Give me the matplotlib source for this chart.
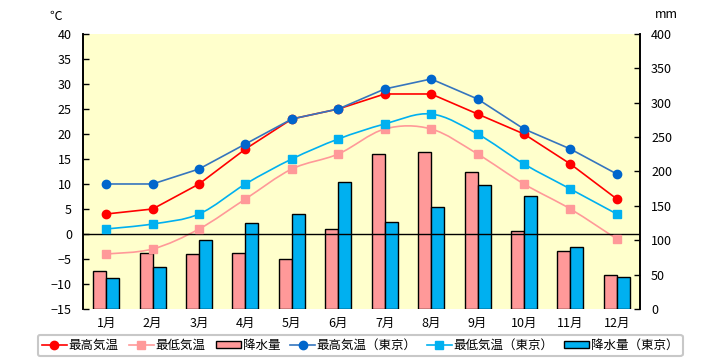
import matplotlib
matplotlib.use("Agg")
import matplotlib.pyplot as plt
from matplotlib.lines import Line2D
from matplotlib.patches import Patch, PathPatch
from matplotlib.path import Path
import numpy as np

plt.rcParams['font.family'] = ['Noto Sans CJK JP', 'DejaVu Sans']

months = ["1月", "2月", "3月", "4月", "5月", "6月",
          "7月", "8月", "9月", "10月", "11月", "12月"]

# temperature (deg C)
tmax = [4, 5, 10, 17, 23, 25, 28, 28, 24, 20, 14, 7]
tmin = [-4, -3, 1, 7, 13, 16, 21, 21, 16, 10, 5, -1]
tmax_tokyo = [10, 10, 13, 18, 23, 25, 29, 31, 27, 21, 17, 12]
tmin_tokyo = [1, 2, 4, 10, 15, 19, 22, 24, 20, 14, 9, 4]

# precipitation (mm)
rain = [55, 81, 80, 81, 72, 116, 226, 228, 199, 113, 84, 50]
rain_tokyo = [45, 61, 100, 125, 138, 184, 126, 148, 180, 164, 90, 46]

temp_ticks = list(range(-15, 41, 5))
mm_ticks = list(range(0, 401, 50))

RED = "#FF0000"
PINK = "#FF9999"
DBLUE = "#0066CC"
LBLUE = "#00B0F0"


def smooth_path(xs, ys):
    """Catmull-Rom style bezier path through the points (like Excel smoothing)."""
    pts = np.column_stack([xs, ys]).astype(float)
    verts = [pts[0]]
    codes = [Path.MOVETO]
    n = len(pts)
    for i in range(n - 1):
        p0 = pts[i - 1] if i > 0 else pts[i]
        p1 = pts[i]
        p2 = pts[i + 1]
        p3 = pts[i + 2] if i + 2 < n else pts[i + 1]
        c1 = p1 + (p2 - p0) / 6.0
        c2 = p2 - (p3 - p1) / 6.0
        verts += [c1, c2, p2]
        codes += [Path.CURVE4] * 3
    return Path(verts, codes)


fig = plt.figure(figsize=(7.2, 3.6), dpi=100)
ax2 = fig.add_axes([0.1153, 0.1417, 0.7736, 0.7639])
ax = ax2.twinx()
# temperature axis on the left, draw it above the bars
ax.yaxis.tick_left()
ax2.yaxis.tick_right()
ax.set_zorder(ax2.get_zorder() + 1)
ax.patch.set_visible(False)
ax2.set_facecolor("#FFFFCC")

x = np.arange(len(months))
w = 0.28

ax2.bar(x - w / 2, rain, w, color=PINK, edgecolor="black", linewidth=1)
ax2.bar(x + w / 2, rain_tokyo, w, color=LBLUE, edgecolor="black", linewidth=1)
ax2.set_ylim(0, 400)
ax2.set_yticks(mm_ticks)

ax.axhline(0, color="black", linewidth=1)

ax.add_patch(PathPatch(smooth_path(x, tmin), facecolor="none",
                       edgecolor=PINK, linewidth=1.2))
ax.plot(x, tmin, linestyle="none", marker="s", markersize=6, color=PINK)
ax.add_patch(PathPatch(smooth_path(x, tmin_tokyo), facecolor="none",
                       edgecolor=LBLUE, linewidth=1.2))
ax.plot(x, tmin_tokyo, linestyle="none", marker="s", markersize=6, color=LBLUE)
ax.plot(x, tmax, color=RED, linewidth=1.2, marker="o", markersize=6)
ax.plot(x, tmax_tokyo, color="#3575BE", linewidth=1.2, marker="o",
        markersize=6, markerfacecolor=DBLUE, markeredgecolor=DBLUE)

ax.set_ylim(-15, 40)
ax.set_yticks(temp_ticks)
ax.set_xlim(-0.5, 11.5)
ax2.set_xlim(-0.5, 11.5)
ax2.set_xticks(x)
ax2.set_xticklabels(months)

for a in (ax, ax2):
    a.spines["top"].set_visible(False)
    a.spines["bottom"].set_visible(False)
    a.spines["left"].set_linewidth(1.2)
    a.spines["right"].set_linewidth(1.2)
    a.tick_params(axis="y", direction="in", length=4, width=1, labelsize=9,
                  pad=8)
    a.tick_params(axis="x", length=0, labelsize=9, pad=6)

fig.text(56 / 720, 1 - 16 / 360, "℃", ha="center", va="center", fontsize=9)
fig.text(666 / 720, 1 - 15 / 360, "mm", ha="center", va="center", fontsize=9)

handles = [
    Line2D([], [], color=RED, marker="o", markersize=6, linewidth=1.2),
    Line2D([], [], color=PINK, marker="s", markersize=6, linewidth=1.2),
    Patch(facecolor=PINK, edgecolor="black", linewidth=1),
    Line2D([], [], color="#3575BE", marker="o", markersize=6, linewidth=1.2,
           markerfacecolor=DBLUE, markeredgecolor=DBLUE),
    Line2D([], [], color=LBLUE, marker="s", markersize=6, linewidth=1.2),
    Patch(facecolor=LBLUE, edgecolor="black", linewidth=1),
]
labels = ["最高気温", "最低気温", "降水量",
          "最高気温（東京）", "最低気温（東京）", "降水量（東京）"]
leg = fig.legend(handles, labels, loc="center", bbox_to_anchor=(0.5, 0.04),
                 ncol=6, fontsize=9, frameon=True, fancybox=True,
                 handlelength=2.0, handleheight=0.5, handletextpad=0.15,
                 columnspacing=0.8, borderpad=0.35, borderaxespad=0)
leg.get_frame().set_edgecolor("#BBBBBB")
leg.get_frame().set_linewidth(1.5)

fig.savefig("out.png", dpi=100)
